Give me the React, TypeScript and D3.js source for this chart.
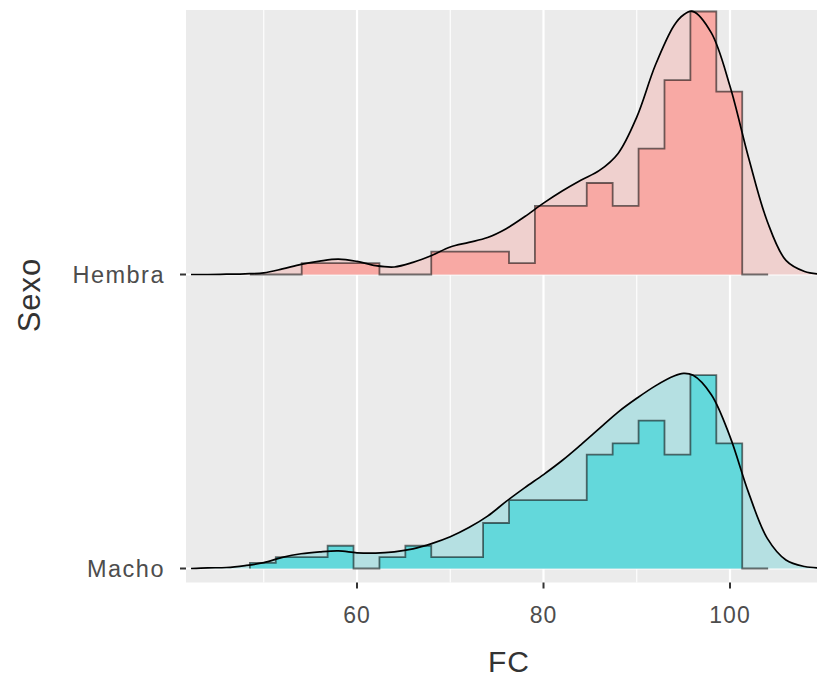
import * as d3 from 'd3'
import React from 'react'

// ridges: binned counts (shared bins) + density curve
const groups = ['Macho', 'Hembra']
const binStart = 48.51
const binWidth = 2.779
const hembraCounts = [0, 0, 1, 1, 1, 0, 0, 2, 2, 2, 1, 6, 6, 8, 6, 11, 17, 23, 16, 0]
const machoCounts = [1, 2, 2, 4, 0, 2, 4, 2, 2, 8, 12, 12, 12, 20, 22, 26, 20, 34, 22, 0]

const densityX = [42.2, 44, 46, 48, 50, 52, 54, 56, 58, 60, 62, 64, 66, 68, 70, 72, 74, 76, 78, 80, 82, 84, 86, 88, 90, 92, 94, 95, 96, 98, 100, 102, 104, 106, 108, 109.4]
const hembraDensity = [0, 0, 0.0001, 0.0002, 0.0005, 0.0017, 0.0031, 0.0041, 0.0047, 0.004, 0.0027, 0.0023, 0.0037, 0.0058, 0.0084, 0.0098, 0.0113, 0.014, 0.0177, 0.0218, 0.0255, 0.0288, 0.0318, 0.037, 0.0481, 0.064, 0.0761, 0.0793, 0.0804, 0.0738, 0.0575, 0.0356, 0.0162, 0.0043, 0.0009, 0.0002]
const machoDensity = [0, 0.0002, 0.0003, 0.0009, 0.0018, 0.0034, 0.0045, 0.0051, 0.0054, 0.0048, 0.0047, 0.0051, 0.006, 0.0076, 0.0097, 0.0125, 0.016, 0.0205, 0.0247, 0.0287, 0.033, 0.0378, 0.0428, 0.0478, 0.052, 0.0558, 0.0588, 0.0596, 0.0591, 0.0531, 0.0403, 0.0231, 0.0092, 0.0026, 0.0006, 0.0002]

const xTicks = [60, 80, 100]
const xMinor = [50, 70, 90, 110]

const W = 817
const H = 679
const panel = { left: 186, right: 817, top: 10, bottom: 582.5 }
const ridgeHeight = 263

const palette = {
  Hembra: { hist: '#F8A9A4', dens: '#EFD0CE' },
  Macho: { hist: '#63D8DB', dens: '#B5E0E2' },
}

const font = '"Liberation Sans", Arial, sans-serif'

const Ridge = ({ name, counts, density, x, y, h }) => {
  const n = d3.sum(counts)
  const base = y(name)
  const histVals = counts.map((c) => c / (n * binWidth))
  const pts: [number, number][] = [[binStart, 0]]
  histVals.forEach((v, i) => {
    pts.push([binStart + i * binWidth, v])
    pts.push([binStart + (i + 1) * binWidth, v])
  })
  pts.push([binStart + counts.length * binWidth, 0])

  const histArea = d3
    .area<[number, number]>()
    .x((d) => x(d[0]))
    .y0(base)
    .y1((d) => base - h(d[1]))
  const histLine = d3
    .line<[number, number]>()
    .x((d) => x(d[0]))
    .y((d) => base - h(d[1]))

  const dens = densityX.map((v, i) => [v, density[i]] as [number, number])
  const curve = d3.curveCatmullRom.alpha(0.5)
  const densArea = d3
    .area<[number, number]>()
    .x((d) => x(d[0]))
    .y0(base)
    .y1((d) => Math.min(base, base - h(d[1])))
    .curve(curve)
  const densLine = d3
    .line<[number, number]>()
    .x((d) => x(d[0]))
    .y((d) => base - h(d[1]))
    .curve(curve)

  const col = palette[name]
  return (
    <g>
      <path d={densArea(dens)} fill={col.dens} />
      <path d={histArea(pts)} fill={col.hist} />
      <path d={histLine(pts)} fill="none" stroke="rgba(0,0,0,0.55)" strokeWidth={1.8} />
      <path d={densLine(dens)} fill="none" stroke="#000" strokeWidth={1.7} />
    </g>
  )
}

const App = () => {
  const x = d3.scaleLinear().domain([41.66, 109.33]).range([panel.left, panel.right])
  const y = d3.scalePoint().domain(groups).range([568.5, 274.5])
  const maxDens = d3.max([hembraCounts, machoCounts], (c) => d3.max(c) / (d3.sum(c) * binWidth))
  const h = d3.scaleLinear().domain([0, maxDens]).range([0, ridgeHeight])

  return (
    <svg width={W} height={H} style={{ position: 'absolute', left: 0, top: 0 }} fontFamily={font}>
      <defs>
        <clipPath id="clip">
          <rect x={panel.left} y={panel.top} width={panel.right - panel.left} height={panel.bottom - panel.top} />
        </clipPath>
      </defs>
      <rect x={0} y={0} width={W} height={H} fill="#fff" />
      <rect x={panel.left} y={panel.top} width={panel.right - panel.left} height={panel.bottom - panel.top} fill="#EBEBEB" />
      {xMinor.map((t) => (
        <line key={'m' + t} x1={x(t)} x2={x(t)} y1={panel.top} y2={panel.bottom} stroke="#fff" strokeWidth={1.1} />
      ))}
      {xTicks.map((t) => (
        <line key={'g' + t} x1={x(t)} x2={x(t)} y1={panel.top} y2={panel.bottom} stroke="#fff" strokeWidth={2.2} />
      ))}
      {groups.map((g) => (
        <line key={'gy' + g} x1={panel.left} x2={panel.right} y1={y(g)} y2={y(g)} stroke="#fff" strokeWidth={2.2} />
      ))}
      <g clipPath="url(#clip)">
        <Ridge name="Macho" counts={machoCounts} density={machoDensity} x={x} y={y} h={h} />
        <Ridge name="Hembra" counts={hembraCounts} density={hembraDensity} x={x} y={y} h={h} />
      </g>
      {xTicks.map((t) => (
        <g key={'t' + t}>
          <line x1={x(t)} x2={x(t)} y1={panel.bottom} y2={panel.bottom + 6} stroke="#333" strokeWidth={2} />
          <text x={x(t)} y={623} textAnchor="middle" fontSize={23} fill="#4D4D4D" letterSpacing={1}>
            {t}
          </text>
        </g>
      ))}
      {groups.map((g) => (
        <g key={'yt' + g}>
          <line x1={panel.left - 6} x2={panel.left} y1={y(g)} y2={y(g)} stroke="#333" strokeWidth={2} />
          <text x={165} y={y(g) + 8.5} textAnchor="end" fontSize={23.5} fill="#4D4D4D" letterSpacing={1.5}>
            {g}
          </text>
        </g>
      ))}
      <text x={509} y={672} textAnchor="middle" fontSize={30} fill="#333" letterSpacing={1}>
        FC
      </text>
      <text transform={`translate(40,295) rotate(-90)`} textAnchor="middle" fontSize={31} fill="#333" letterSpacing={1}>
        Sexo
      </text>
    </svg>
  )
}

export default App
